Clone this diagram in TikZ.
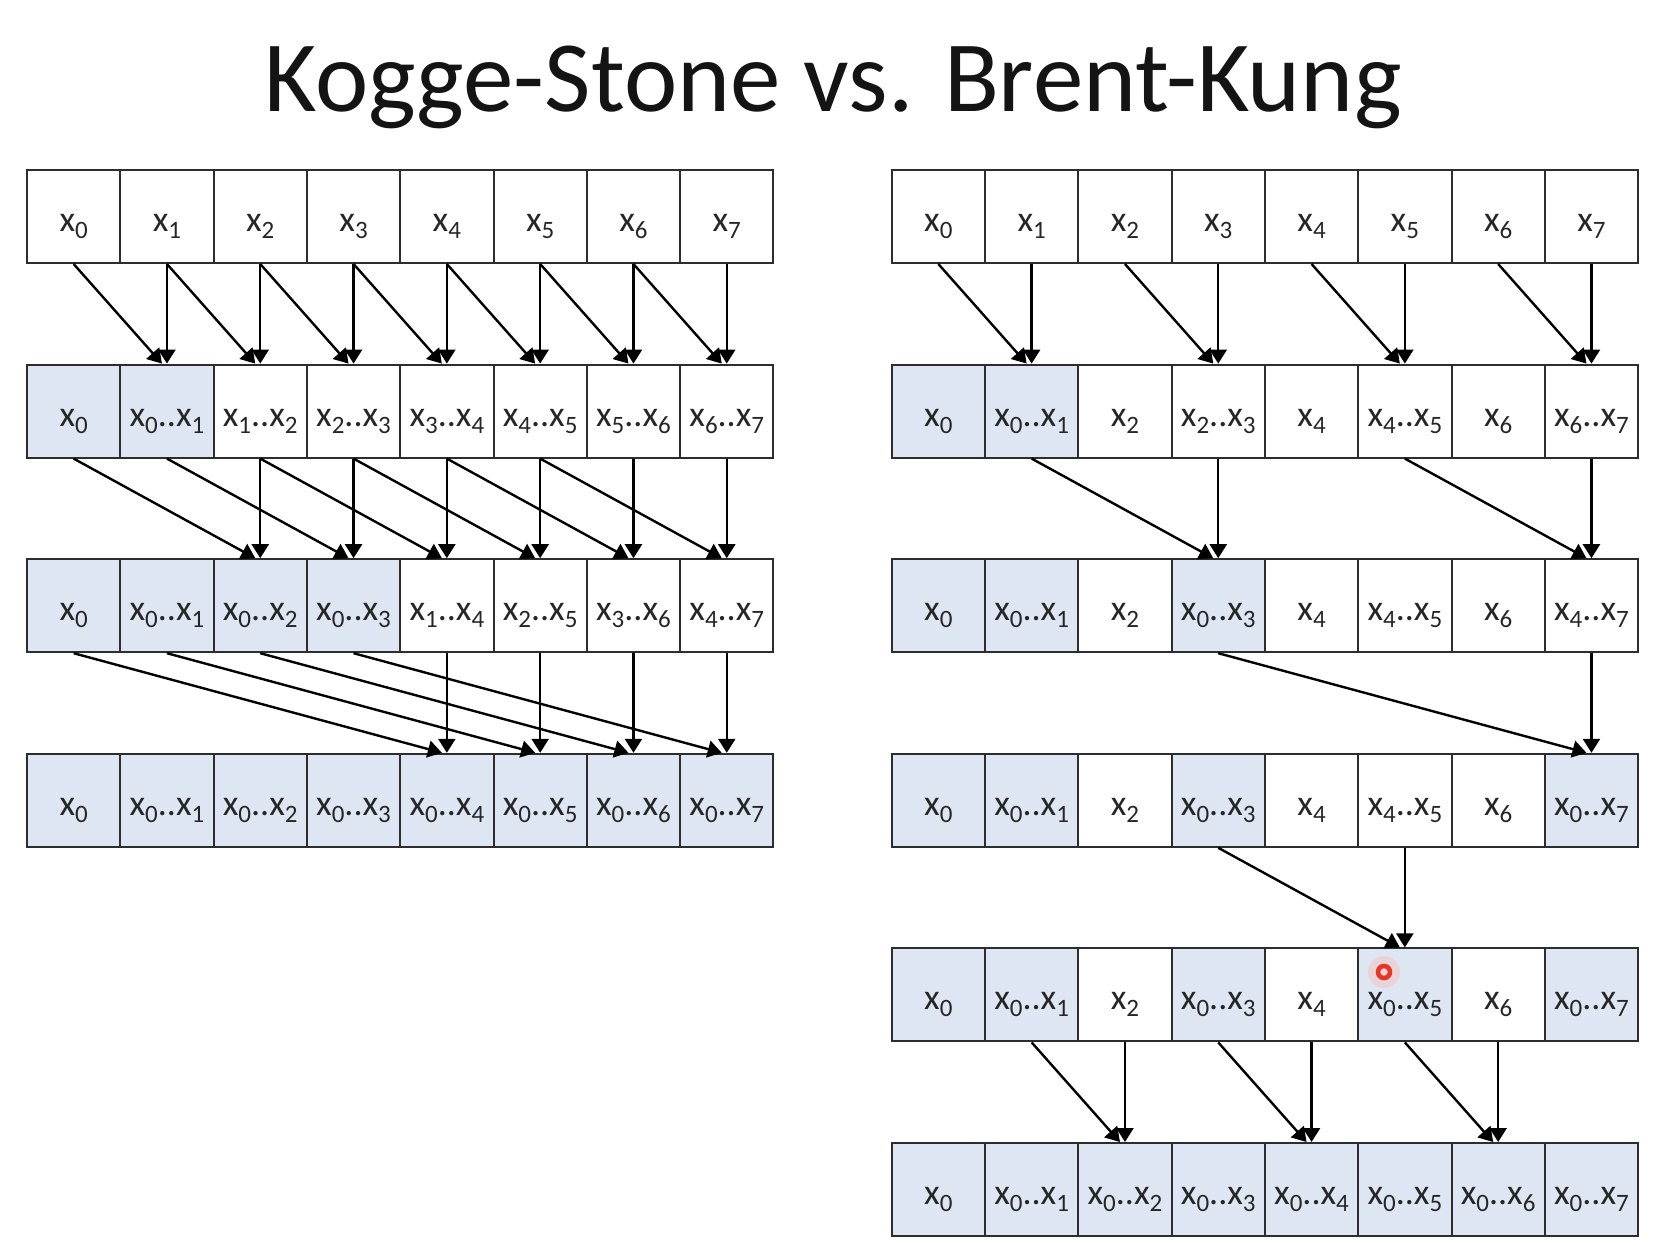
\documentclass[tikz,border=0pt]{standalone}
\usepackage{fontspec}
\setmainfont{Carlito}
\usetikzlibrary{arrows.meta}
\definecolor{sh}{RGB}{221,230,242}
\colorlet{wh}{white}
\definecolor{txt}{RGB}{38,38,38}
\definecolor{titletxt}{RGB}{20,20,20}
\definecolor{cellline}{RGB}{45,45,45}
\definecolor{cursorred}{RGB}{232,52,40}
\newcommand\xx[1]{x\raisebox{-7pt}{\fontsize{25}{25}\selectfont #1}}
\newcommand\xr[2]{\xx{#1}..\xx{#2}}
\newcommand\cellrow[4]{%
  \foreach \t/\f [count=\i from 0] in {#4} {
    \node[cell, fill=\f] (#1-#2-\i) at ({#3+(\i+0.5)*93.3}, {170+(#2-1)*194.6+46.5}) {\t};
  }}
\begin{document}
\begin{tikzpicture}[x=1pt,y=-1pt,
  cell/.style={draw=cellline, line width=2pt, minimum width=93.3pt, minimum height=93pt,
    inner sep=0pt, text height=30pt, text depth=0pt, font=\fontsize{36}{40}\selectfont, text=txt},
  arr/.style={line width=2.4pt, draw=black, -{Triangle[width=17pt,length=14pt]}}]
\fill[white] (0,0) rectangle (1664,1246);
\useasboundingbox (0,0) rectangle (1664,1246);

\node[font=\fontsize{101}{110}\selectfont, anchor=base, text=titletxt] (title) at (833,112) {Kogge-Stone vs. Brent-Kung};

% Kogge-Stone
\cellrow{L}{1}{27}{\xx0/wh,\xx1/wh,\xx2/wh,\xx3/wh,\xx4/wh,\xx5/wh,\xx6/wh,\xx7/wh}
\cellrow{L}{2}{27}{\xx0/sh,\xr01/sh,\xr12/wh,\xr23/wh,\xr34/wh,\xr45/wh,\xr56/wh,\xr67/wh}
\cellrow{L}{3}{27}{\xx0/sh,\xr01/sh,\xr02/sh,\xr03/sh,\xr14/wh,\xr25/wh,\xr36/wh,\xr47/wh}
\cellrow{L}{4}{27}{\xx0/sh,\xr01/sh,\xr02/sh,\xr03/sh,\xr04/sh,\xr05/sh,\xr06/sh,\xr07/sh}

% Brent-Kung
\cellrow{R}{1}{891.7}{\xx0/wh,\xx1/wh,\xx2/wh,\xx3/wh,\xx4/wh,\xx5/wh,\xx6/wh,\xx7/wh}
\cellrow{R}{2}{891.7}{\xx0/sh,\xr01/sh,\xx2/wh,\xr23/wh,\xx4/wh,\xr45/wh,\xx6/wh,\xr67/wh}
\cellrow{R}{3}{891.7}{\xx0/sh,\xr01/sh,\xx2/wh,\xr03/sh,\xx4/wh,\xr45/wh,\xx6/wh,\xr47/wh}
\cellrow{R}{4}{891.7}{\xx0/sh,\xr01/sh,\xx2/wh,\xr03/sh,\xx4/wh,\xr45/wh,\xx6/wh,\xr07/sh}
\cellrow{R}{5}{891.7}{\xx0/sh,\xr01/sh,\xx2/wh,\xr03/sh,\xx4/wh,\xr05/sh,\xx6/wh,\xr07/sh}
\cellrow{R}{6}{891.7}{\xx0/sh,\xr01/sh,\xr02/sh,\xr03/sh,\xr04/sh,\xr05/sh,\xr06/sh,\xr07/sh}

% Kogge-Stone connectors
\foreach \c [evaluate=\c as \p using int(\c-1)] in {1,...,7} {
  \draw[arr] (L-1-\c.south) -- (L-2-\c.north);
  \draw[arr] (L-1-\p.south) -- ([xshift=-5pt]L-2-\c.north);
}
\foreach \c [evaluate=\c as \p using int(\c-2)] in {2,...,7} {
  \draw[arr] (L-2-\c.south) -- (L-3-\c.north);
  \draw[arr] (L-2-\p.south) -- ([xshift=-5pt]L-3-\c.north);
}
\foreach \c [evaluate=\c as \p using int(\c-4)] in {4,...,7} {
  \draw[arr] (L-3-\c.south) -- (L-4-\c.north);
  \draw[arr] (L-3-\p.south) -- ([xshift=-5pt]L-4-\c.north);
}

% Brent-Kung connectors
\foreach \c [evaluate=\c as \p using int(\c-1)] in {1,3,5,7} {
  \draw[arr] (R-1-\c.south) -- (R-2-\c.north);
  \draw[arr] (R-1-\p.south) -- ([xshift=-5pt]R-2-\c.north);
}
\foreach \c [evaluate=\c as \p using int(\c-2)] in {3,7} {
  \draw[arr] (R-2-\c.south) -- (R-3-\c.north);
  \draw[arr] (R-2-\p.south) -- ([xshift=-5pt]R-3-\c.north);
}
\draw[arr] (R-3-7.south) -- (R-4-7.north);
\draw[arr] (R-3-3.south) -- ([xshift=-5pt]R-4-7.north);
\draw[arr] (R-4-5.south) -- (R-5-5.north);
\draw[arr] (R-4-3.south) -- ([xshift=-5pt]R-5-5.north);
\foreach \c [evaluate=\c as \p using int(\c-1)] in {2,4,6} {
  \draw[arr] (R-5-\c.south) -- (R-6-\c.north);
  \draw[arr] (R-5-\p.south) -- ([xshift=-5pt]R-6-\c.north);
}

% cursor highlight
\fill[cursorred!30, opacity=0.5] (1384,972) circle[radius=16];
\draw[cursorred, line width=4.5pt] (1384,972) circle[radius=6];
\end{tikzpicture}
\end{document}
